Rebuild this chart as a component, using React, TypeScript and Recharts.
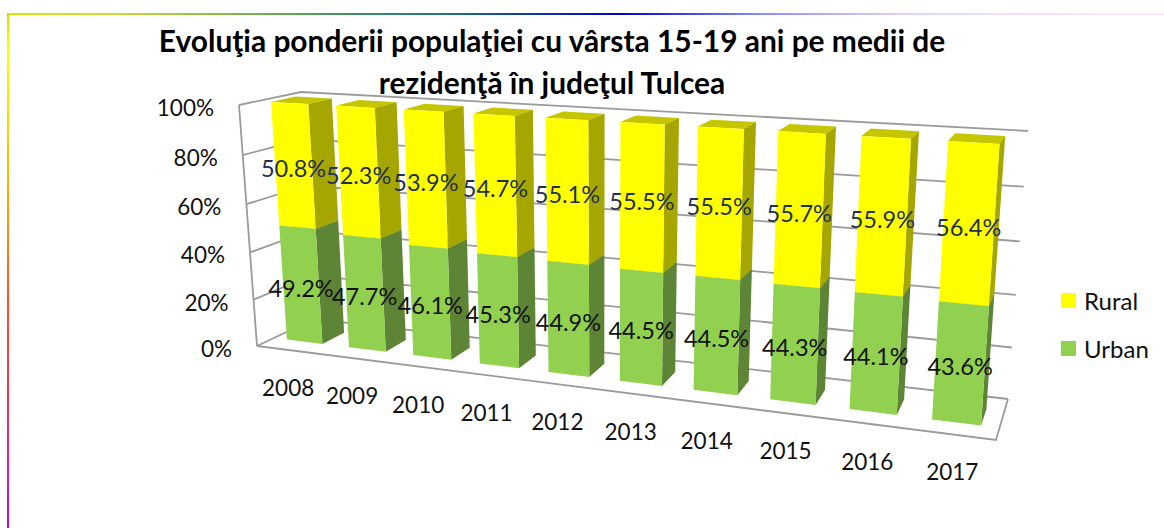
import { Bar, BarChart, CartesianGrid, LabelList, Legend, XAxis, YAxis } from 'recharts';

const categories = ['2008', '2009', '2010', '2011', '2012', '2013', '2014', '2015', '2016', '2017'];
const urbanValues = [49.2, 47.7, 46.1, 45.3, 44.9, 44.5, 44.5, 44.3, 44.1, 43.6];
const ruralValues = [50.8, 52.3, 53.9, 54.7, 55.1, 55.5, 55.5, 55.7, 55.9, 56.4];
const valueTicks = [0, 20, 40, 60, 80, 100];
const titleLines = ['Evoluţia ponderii populaţiei cu vârsta 15-19 ani pe medii de', 'rezidenţă în judeţul Tulcea'];

const data = categories.map((year, i) => ({ year, urban: urbanValues[i], rural: ruralValues[i] }));

const FONT = 'Lato, sans-serif';
const WIDTH = 1164;
const HEIGHT = 528;
const MARGIN = { top: 40, right: 40, bottom: 40, left: 40 };
const AXIS_W = 60;
const AXIS_H = 30;
const PLOT = {
  left: MARGIN.left + AXIS_W,
  top: MARGIN.top,
  w: WIDTH - MARGIN.left - MARGIN.right - AXIS_W,
  h: HEIGHT - MARGIN.top - MARGIN.bottom - AXIS_H,
};

// corners of the 3d box as they land on the screen
const FRONT = { tl: [239, 105], tr: [1015, 151], bl: [257, 346], br: [996, 440] };
const BACK = { tl: [301, 92], tr: [1028, 131], bl: [314, 319], br: [1008, 399] };
const WARP_X = 1.195;
const WARP_V = 1.05;
const BAR_Z = [0.3, 0.7];

const warp = (t: number, q: number) => t / (t + q * (1 - t));
const mix = (a: number[], b: number[], t: number) => [a[0] + (b[0] - a[0]) * t, a[1] + (b[1] - a[1]) * t];

function project(u: number, v: number, z: number) {
  const s = warp(u, WARP_X);
  const t = warp(v, WARP_V);
  const front = mix(mix(FRONT.bl, FRONT.br, s), mix(FRONT.tl, FRONT.tr, s), t);
  const back = mix(mix(BACK.bl, BACK.br, s), mix(BACK.tl, BACK.tr, s), t);
  return mix(front, back, z);
}

const toU = (x: number) => (x - PLOT.left) / PLOT.w;
const toV = (y: number) => 1 - (y - PLOT.top) / PLOT.h;
const pts = (list: number[][]) => list.map((p) => `${p[0].toFixed(1)},${p[1].toFixed(1)}`).join(' ');

const makeBox = (front: string, side: string, top: string) => (props: any) => {
  const { x, y, width, height } = props;
  const u0 = toU(x);
  const u1 = toU(x + width);
  const v0 = toV(y + height);
  const v1 = toV(y);
  const [z0, z1] = BAR_Z;
  return (
    <g>
      <polygon fill={top} points={pts([project(u0, v1, z0), project(u1, v1, z0), project(u1, v1, z1), project(u0, v1, z1)])} />
      <polygon fill={side} points={pts([project(u1, v0, z0), project(u1, v1, z0), project(u1, v1, z1), project(u1, v0, z1)])} />
      <polygon fill={front} points={pts([project(u0, v0, z0), project(u1, v0, z0), project(u1, v1, z0), project(u0, v1, z0)])} />
    </g>
  );
};

const makeLabel = (color: string) => (props: any) => {
  const { x, y, width, height, value } = props;
  const [px, py] = project(toU(x + width / 2), toV(y + height / 2), 0.3);
  return (
    <text x={px} y={py + 11.5} textAnchor="middle" fontFamily={FONT} fontSize={23.5} fill={color}>
      {`${Number(value).toFixed(1)}%`}
    </text>
  );
};

const wallLine = (props: any) => {
  const v = toV(props.y1);
  const front = project(0, v, 0);
  const corner = project(0, v, 1);
  const right = project(1, v, 1);
  const isFloor = v < 0.001;
  const stroke = { stroke: '#9b9b9b', strokeWidth: 1.8, fill: 'none' };
  return (
    <g key={props.key}>
      <polyline points={pts([front, corner, right])} {...stroke} />
      {isFloor && <polyline points={pts([front, project(1, 0, 0), project(1, 0, 1)])} {...stroke} />}
      {v > 0.999 && <polyline points={pts([front, project(0, 0, 0)])} {...stroke} />}
    </g>
  );
};

const YTick = (props: any) => {
  const [px, py] = project(0, toV(props.y), 0);
  return (
    <text x={px - 25} y={py + 11} textAnchor="end" fontFamily={FONT} fontSize={22.5} fill="#111">
      {`${props.payload.value}%`}
    </text>
  );
};

const XTick = (props: any) => {
  const [px, py] = project(toU(props.x), 0, 0);
  return (
    <text x={px} y={py + 46} textAnchor="middle" fontFamily={FONT} fontSize={22.5} fill="#111">
      {props.payload.value}
    </text>
  );
};

const legendItems = (props: any) => (
  <div>
    {props.payload.map((item: any) => (
      <div key={item.value} style={{ display: 'flex', alignItems: 'center', height: 48, fontFamily: FONT, fontSize: 24, color: '#111' }}>
        <span style={{ width: 15, height: 15, background: item.color, marginRight: 8 }} />
        {item.value}
      </div>
    ))}
  </div>
);

export default function App() {
  return (
    <div style={{ position: 'absolute', left: 0, top: 0, width: WIDTH, height: HEIGHT, background: '#fff', overflow: 'hidden' }}>
      <div
        style={{
          position: 'absolute', left: 7, top: 13, width: WIDTH - 7, height: 2,
          background: 'linear-gradient(90deg, #d0e800 0, #c8e030 9%, #3c9060 30%, #1f7a80 37%, #0000d0 53%, #8a8aff 65%, #e4d4fa 78%, #fce8fc 95%)',
        }}
      />
      <div
        style={{
          position: 'absolute', left: 7, top: 13, width: 2, height: HEIGHT - 13,
          background: 'linear-gradient(180deg, #c0e000 0, #ffff00 7%, #ffa000 38%, #ff5020 55%, #f03058 77%, #e01ca0 90%, #b010c8 100%)',
        }}
      />
      <div
        style={{
          position: 'absolute', left: 100, width: 904, top: 19, textAlign: 'center',
          fontFamily: FONT, fontWeight: 700, fontSize: 29.9, lineHeight: '42px', color: '#000', whiteSpace: 'nowrap',
        }}
      >
        {titleLines.map((line) => (
          <div key={line}>{line}</div>
        ))}
      </div>
      <div style={{ position: 'absolute', left: 0, top: 0 }}>
        <BarChart width={WIDTH} height={HEIGHT} data={data} margin={MARGIN} barCategoryGap="21%">
          <CartesianGrid vertical={false} horizontal={wallLine} />
          <XAxis dataKey="year" height={AXIS_H} axisLine={false} tickLine={false} interval={0} tick={XTick} />
          <YAxis width={AXIS_W} domain={[0, 100]} ticks={valueTicks} axisLine={false} tickLine={false} tick={YTick} />
          <Legend
            layout="vertical"
            align="center"
            verticalAlign="middle"
            wrapperStyle={{ left: 1061, top: 276, width: 100 }}
            content={legendItems}
          />
          <Bar dataKey="urban" name="Urban" stackId="a" fill="#92D050" isAnimationActive={false} shape={makeBox('#92D050', '#5E8435', '#7CB040')}>
            <LabelList dataKey="urban" content={makeLabel('#111')} />
          </Bar>
          <Bar dataKey="rural" name="Rural" stackId="a" fill="#FFFF00" isAnimationActive={false} shape={makeBox('#FFFF00', '#A6A600', '#C6C600')}>
            <LabelList dataKey="rural" content={makeLabel('#1F3050')} />
          </Bar>
        </BarChart>
      </div>
    </div>
  );
}
